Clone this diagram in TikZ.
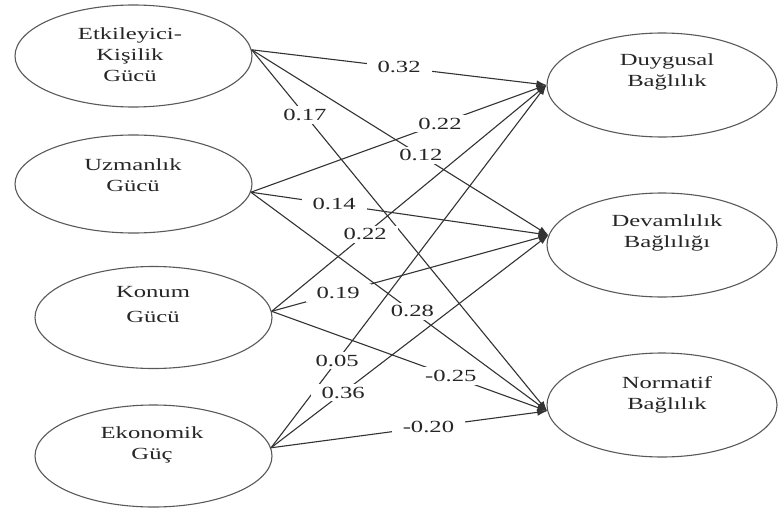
\documentclass[tikz,border=0pt]{standalone}
\usepackage{fontspec}
\setmainfont[FakeStretch=1.45]{Liberation Serif}
\usetikzlibrary{shapes.geometric, positioning, arrows.meta}

\tikzset{
	factor/.style={ellipse, draw=black!65, line width=1.1pt, minimum width=237pt, minimum height=102pt, inner sep=0pt},
	factortext/.style={align=center},
	coef/.style={fill=white, inner xsep=11pt, inner ysep=3pt},
	link/.style={draw=black!80, line width=1.1pt, -{Latex[length=10pt,width=7pt]}},
}

\begin{document}
\begin{tikzpicture}[x=1pt, y=-1pt, font=\fontsize{17pt}{21pt}\selectfont, text=black!85]
				\useasboundingbox (0,0) rectangle (778,511);
				\node[factor] (ek) at (133.5,56) {};
				\node[factor, minimum height=98pt] (uz) at (133.5,184) {};
				\node[factor] (ko) at (153.5,317.5) {};
				\node[factor] (eko) at (153.5,456) {};
				\node[factor, minimum width=230pt, minimum height=104pt] (du) at (662,85) {};
				\node[factor, minimum width=230pt, minimum height=104pt] (de) at (662,245) {};
				\node[factor, minimum width=230pt, minimum height=104pt] (no) at (662,405) {};
				\node[factortext] (ekt) at (130,55) {Etkileyici-\\Kişilik\\Gücü};
				\node[factortext] (uzt) at (133,175) {Uzmanlık\\Gücü};
				\node[factortext] (kot) at (153,305) {Konum\\[4pt]Gücü};
				\node[factortext] (ekot) at (152,445) {Ekonomik\\Güç};
				\node[factortext] (dut) at (667,72) {Duygusal\\Bağlılık};
				\node[factortext] (det) at (667,233) {Devamlılık\\Bağlılığı};
				\node[factortext] (not) at (667,395) {Normatif\\Bağlılık};
				\path (ek.3) edge[link] node[coef]{0.32} (du.west)
						(ek.3) edge[link] node[coef, pos=.57]{0.12} (de.175)
						(ek.3) edge[link] node[coef, pos=.18]{0.17} (no.183)
						(uz.-4) edge[link] node[coef, pos=.64]{0.22} (du.west)
						(uz.-4) edge[link] node[coef, pos=.28]{0.14} (de.175)
						(uz.-4) edge[link] node[coef, pos=.545]{0.28} (no.183)
						(ko.3) edge[link] node[coef, pos=.34]{0.22} (du.west)
						(ko.3) edge[link] node[coef, pos=.24]{0.19} (de.175)
						(ko.3) edge[link] node[coef, pos=.65]{-0.25} (no.183)
						(eko.4) edge[link] node[coef, pos=.24]{0.05} (du.west)
						(eko.4) edge[link] node[coef, pos=.26]{0.36} (de.175)
						(eko.4) edge[link] node[coef, pos=.57]{-0.20} (no.183);
			\end{tikzpicture}
\end{document}
